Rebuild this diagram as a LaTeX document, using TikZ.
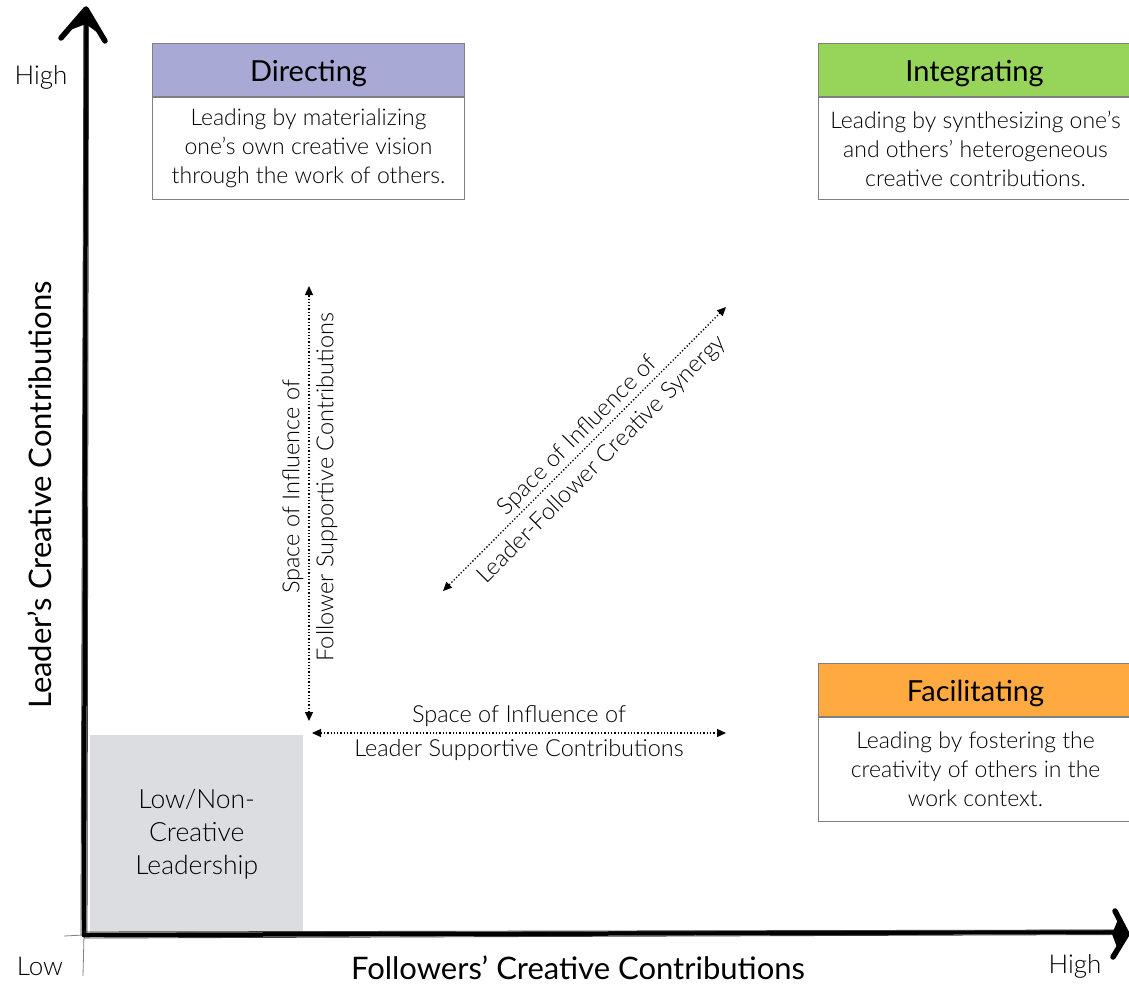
\documentclass[tikz,border=0pt]{standalone}
\usepackage{fontspec}
\setmainfont{Lato}[UprightFont=* Light, BoldFont=* Regular]
\usetikzlibrary{arrows.meta}
\definecolor{dirc}{RGB}{169,169,214}
\definecolor{intc}{RGB}{150,212,90}
\definecolor{facc}{RGB}{255,170,64}
\definecolor{lowc}{RGB}{220,221,224}
\definecolor{edgec}{RGB}{128,128,128}
\tikzset{
  head/.style={draw=edgec, line width=1pt, minimum width=312pt, minimum height=53pt,
    inner sep=0pt, text height=23pt, text depth=0pt,
    font=\fontsize{29}{32}\selectfont\bfseries, anchor=north west},
  bodybox/.style={draw=edgec, line width=1pt, fill=white, minimum width=312pt,
    inner sep=0pt, align=center, font=\fontsize{23}{29}\selectfont, anchor=north},
  dotarrow/.style={dotted, line width=1.3pt,
    {Triangle[length=9pt,width=8pt]}-{Triangle[length=9pt,width=8pt]}},
  inflabel/.style={align=center, font=\fontsize{23.5}{34}\selectfont, inner sep=0pt},
  ticklabel/.style={font=\fontsize{26}{30}\selectfont, inner sep=0pt},
  axislabel/.style={font=\fontsize{31}{36}\selectfont\bfseries, inner sep=0pt},
  axisline/.style={line width=4.5pt, line cap=round},
  axisthin/.style={line width=0.9pt, black!75},
  axishead/.style={line width=5.5pt, line cap=round, line join=round}
}
\begin{document}
\begin{tikzpicture}[x=1pt,y=-1pt]
\useasboundingbox (0,0) rectangle (1129,986);

% low / non-creative box
\node[fill=lowc, minimum width=213pt, minimum height=197pt, inner sep=0pt,
  anchor=north west, align=center, font=\fontsize{26.5}{33}\selectfont] (low) at (90,735)
  {Low/Non-\\Creative\\Leadership};

% axes
\coordinate (O) at (84,935);
\coordinate (ybot) at (83,976);
\coordinate (ytop) at (86,16);
\coordinate (xleft) at (64,936);
\coordinate (xright) at (1120,932);
\draw[line width=0.8pt, gray] (ybot) -- (O);
\draw[line width=0.8pt, gray] (xleft) -- (O);
\draw[axisline] (O) -- (ytop);
\draw[axisthin] ([xshift=-3pt]O) -- ([xshift=-2pt]ytop);
\draw[axisthin] ([xshift=3pt]O) -- ([xshift=2.5pt]ytop);
\draw[axisline] (O) -- (xright);
\draw[axisthin] ([yshift=-3pt]O) -- ([yshift=-2.5pt]xright);
\draw[axisthin] ([yshift=3pt]O) -- ([yshift=2pt]xright);
\coordinate (ytip) at (86,9);
\coordinate (xtip) at (1127,934);
\draw[axishead] (61,38) -- (ytip) -- (105,41);
\fill (70,30) -- (ytip) -- (98,33) -- (86,24) -- cycle;
\draw[axishead] (1115,911) -- (xtip) -- (1113,957);
\fill (1119,917) -- (xtip) -- (1118,950) -- (1112,934) -- cycle;

% tick labels
\node[ticklabel] (yhigh) at (41,77) {High};
\node[ticklabel] (ylow) at (40,966) {Low};
\node[ticklabel] (xhigh) at (1075,966) {High};

% axis labels
\node[axislabel, rotate=90] (ylabel) at (40,495) {Leader’s Creative Contributions};
\node[axislabel] (xlabel) at (578,968) {Followers’ Creative Contributions};

% Directing
\node[head, fill=dirc] (dirh) at (152,43) {Directing};
\node[bodybox, minimum height=102pt] (dirb) at (dirh.south)
  {Leading by materializing\\one’s own creative vision\\through the work of others.};

% Integrating
\node[head, fill=intc, minimum width=314pt] (inth) at (818,43) {\hspace*{-2pt}Integrating};
\node[bodybox, minimum height=102pt, minimum width=314pt] (intb) at (inth.south)
  {Leading by synthesizing one’s\\and others’ heterogeneous\\creative contributions.};

% Facilitating
\node[head, fill=facc, minimum width=314pt] (fach) at (818,663) {Facilitating};
\node[bodybox, minimum height=104pt, minimum width=314pt] (facb) at (fach.south)
  {Leading by fostering the\\creativity of others in the\\work context.};

% vertical influence arrow
\coordinate (vtop) at (309,286);
\coordinate (vbot) at (309,721);
\draw[dotarrow] (vbot) -- (vtop);
\node[inflabel, rotate=90] (vlab) at (310,487)
  {Space of Influence of\\Follower Supportive Contributions};

% horizontal influence arrow
\coordinate (hleft) at (312,733);
\coordinate (hright) at (726,733);
\draw[dotarrow] (hleft) -- (hright);
\node[inflabel] (hlab) at (519,733)
  {Space of Influence of\\Leader Supportive Contributions};

% diagonal influence arrow
\coordinate (dlow) at (443,591);
\coordinate (dhigh) at (726,307);
\draw[dotarrow] (dlow) -- (dhigh);
\node[inflabel, rotate=45] (dlab) at (590,448)
  {Space of Influence of\\Leader-Follower Creative Synergy};
\end{tikzpicture}
\end{document}
